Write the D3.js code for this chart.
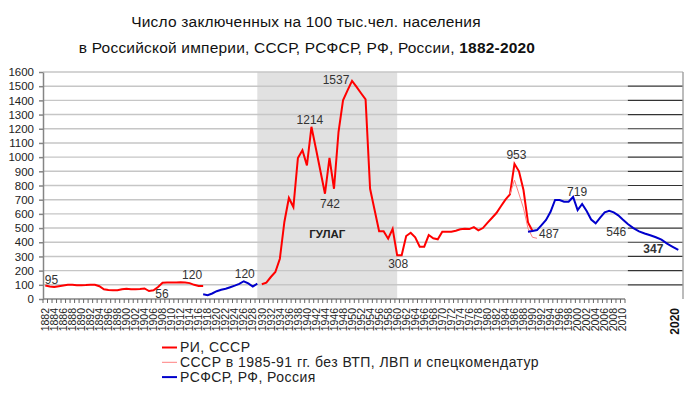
<!DOCTYPE html>
<html lang="ru">
<head>
<meta charset="UTF-8">
<title>Число заключенных на 100 тыс.чел. населения</title>
<style>
  body { margin: 0; background: #fff; }
  svg { display: block; font-family: "Liberation Sans", Arial, sans-serif; }
  .grid line { stroke: #c6c6c6; stroke-width: 1.4; }
  .ext line { stroke: #333; stroke-width: 1.2; }
  .yaxis path, .yaxis line { stroke: #858585; stroke-width: 1.5; }
  .yaxis text { font-size: 11.5px; fill: #222; }
  .xlab { font-size: 10.5px; fill: #222; }
  .note { font-size: 12px; fill: #333; }
</style>
</head>
<body>
<svg id="chart" width="688" height="396"></svg>
<script src="https://cdn.jsdelivr.net/npm/d3@7"></script>
<script>
// Российская империя, 1882-1917
const riYears = d3.range(1882, 1918);
const riValues = [95, 88, 85, 90, 95, 100, 100, 97, 97, 98,
  101, 100, 90, 68, 63, 61, 61, 68, 72, 68,
  68, 70, 74, 56, 62, 85, 115, 117, 117, 117,
  118, 116, 112, 100, 92, 92];

// РСФСР, 1917-1929
const rsfsrYears = d3.range(1917, 1930);
const rsfsrValues = [33, 27, 39, 55, 65, 72, 83, 94, 106, 125, 110, 87, 108];

// СССР, 1930-1990
const ussrYears = d3.range(1930, 1991);
const ussrValues = [104, 115, 155, 190, 284, 543, 712, 648, 994, 1048,
  942, 1214, 1059, 900, 742, 994, 777, 1177, 1400, 1470,
  1537, 1495, 1450, 1407, 777, 627, 477, 477, 425, 495,
  308, 308, 444, 467, 435, 369, 369, 451, 428, 421,
  474, 474, 474, 481, 491, 495, 493, 507, 484, 500,
  537, 571, 606, 654, 700, 738, 953, 900, 768, 540,
  479];

// СССР в 1985-91 гг. без ВТП, ЛВП и спецкомендатур
const noVtpYears = d3.range(1985, 1992);
const noVtpValues = [738, 838, 740, 640, 498, 435, 428];

// РФ, Россия, 1989-2020
const rfYears = d3.range(1989, 2021);
const rfValues = [474, 479, 486, 521, 557, 615, 698, 698, 686, 686,
  719, 627, 670, 620, 560, 533, 573, 611, 622, 611,
  590, 560, 528, 500, 477, 462, 449, 435, 418, 390,
  368, 347];

const gulagYears = [1929, 1960];
const labelYears = d3.range(1882, 2011, 2);

const legendItems = [
  { name: 'РИ, СССР', color: '#ff0000', width: 2 },
  { name: 'СССР в 1985-91 гг. без ВТП, ЛВП и спецкомендатур', color: '#ff8080', width: 1 },
  { name: 'РСФСР, РФ, Россия', color: '#0000cc', width: 2 }
];

const svg = d3.select('#chart');
const plotLeft = 43, plotRight = 683, plotTop = 72, plotBottom = 299;

// category axis up to 2010, then the appended part up to 2020
const x = d3.scaleLinear().domain([1881.5, 2010.5, 2020]).range([plotLeft, 625, 678.3]);
const y = d3.scaleLinear().domain([0, 1600]).range([plotBottom, plotTop]);

// title
const title = svg.append('text').attr('text-anchor', 'middle').attr('fill', '#111')
  .style('font-size', '15.5px').style('letter-spacing', '0.2px');
title.append('tspan').attr('x', 306).attr('y', 27).text('Число заключенных на 100 тыс.чел. населения');
const t2 = title.append('tspan').attr('x', 307).attr('y', 52.5);
t2.append('tspan').text('в Российской империи, СССР, РСФСР, РФ, России, ');
t2.append('tspan').attr('font-weight', 'bold').text('1882-2020');

// GULAG band
svg.append('rect')
  .attr('x', x(gulagYears[0]))
  .attr('y', plotTop)
  .attr('width', x(gulagYears[1]) - x(gulagYears[0]))
  .attr('height', plotBottom - plotTop)
  .attr('fill', '#e1e1e1');

// gridlines
const gridVals = y.ticks(16).filter(d => d > 0);
svg.append('g').attr('class', 'grid')
  .selectAll('line').data(gridVals).join('line')
  .attr('x1', plotLeft).attr('x2', d => d === 1600 ? plotRight : x(2011))
  .attr('y1', d => y(d)).attr('y2', d => y(d));

svg.append('g').attr('class', 'ext')
  .selectAll('line').data(gridVals.filter(d => d < 1600)).join('line')
  .attr('x1', x(2011)).attr('x2', plotRight)
  .attr('y1', d => y(d)).attr('y2', d => y(d));

svg.append('line')
  .attr('x1', plotRight).attr('x2', plotRight).attr('y1', plotTop).attr('y2', plotBottom)
  .attr('stroke', '#a0a0a0').attr('stroke-width', 1.4);

// y axis
svg.append('g').attr('class', 'yaxis')
  .attr('transform', `translate(${plotLeft},0)`)
  .call(d3.axisLeft(y).ticks(16).tickFormat(d3.format('d'))
    .tickSize(4).tickSizeOuter(0).tickPadding(5));

// x axis
svg.append('line')
  .attr('x1', plotLeft).attr('x2', x(2010.5)).attr('y1', plotBottom).attr('y2', plotBottom)
  .attr('stroke', '#858585').attr('stroke-width', 1.5);

svg.append('g')
  .selectAll('line').data(d3.range(1882, 2012)).join('line')
  .attr('x1', d => x(d - 0.5)).attr('x2', d => x(d - 0.5))
  .attr('y1', plotBottom).attr('y2', plotBottom + 4)
  .attr('stroke', '#666');

svg.append('g')
  .selectAll('text').data(labelYears).join('text')
  .attr('class', 'xlab')
  .attr('transform', d => `translate(${x(d)},${plotBottom + 9}) rotate(-90)`)
  .attr('text-anchor', 'end')
  .attr('dy', '0.35em')
  .text(d => d);

svg.append('text')
  .attr('transform', `translate(${x(2020) - 4},${plotBottom + 9}) rotate(-90)`)
  .attr('text-anchor', 'end')
  .attr('dy', '0.35em')
  .attr('font-weight', 'bold')
  .style('font-size', '12px')
  .attr('fill', '#111')
  .text('2020');

// lines
const line = d3.line().x(d => x(d[0])).y(d => y(d[1]));
const pairs = (ys, vs) => ys.map((yr, i) => [yr, vs[i]]);

svg.append('path').datum(pairs(riYears, riValues))
  .attr('d', line).attr('fill', 'none').attr('stroke', '#ff0000').attr('stroke-width', 2);
svg.append('path').datum(pairs(ussrYears, ussrValues))
  .attr('d', line).attr('fill', 'none').attr('stroke', '#ff0000').attr('stroke-width', 2);
svg.append('path').datum(pairs(noVtpYears, noVtpValues))
  .attr('d', line).attr('fill', 'none').attr('stroke', '#ff8080').attr('stroke-width', 1);
svg.append('path').datum(pairs(rsfsrYears, rsfsrValues))
  .attr('d', line).attr('fill', 'none').attr('stroke', '#0000cc').attr('stroke-width', 2);
svg.append('path').datum(pairs(rfYears, rfValues))
  .attr('d', line).attr('fill', 'none').attr('stroke', '#0000cc').attr('stroke-width', 2);

// value notes
function note(txt, year, value, dx, dy, anchor) {
  return svg.append('text').attr('class', 'note')
    .attr('x', x(year) + dx).attr('y', y(value) + dy)
    .attr('text-anchor', anchor || 'middle')
    .text(txt);
}
note('95', 1882, 95, -0.5, -2, 'start');
note('56', 1905, 56, 13, 7);
note('120', 1915, 120, -2, -3);
note('120', 1926, 125, 1, -3);
note('1214', 1941, 1214, -1.5, -3);
note('742', 1944, 742, 5, 14);
note('1537', 1950, 1537, -16, 3);
note('308', 1960, 308, 1, 13);
note('953', 1986, 953, 2, -4.5);
note('487', 1991, 486, 2, 8, 'start');
note('719', 1999, 719, 4, -1);
note('546', 2009, 590, -2, 21);
note('347', 2020, 347, -25, 3.5).attr('font-weight', 'bold').attr('fill', '#000');

svg.append('text')
  .attr('x', (x(gulagYears[0]) + x(gulagYears[1])) / 2)
  .attr('y', y(430))
  .attr('text-anchor', 'middle')
  .attr('font-weight', 'bold')
  .style('font-size', '11.5px')
  .attr('fill', '#222')
  .text('ГУЛАГ');

// legend
const legend = svg.append('g')
  .selectAll('g').data(legendItems).join('g')
  .attr('transform', (d, i) => `translate(162,${347.5 + i * 14.8})`);
legend.append('line')
  .attr('x1', 0).attr('x2', 15)
  .attr('stroke', d => d.color).attr('stroke-width', d => d.width);
legend.append('text')
  .attr('x', 18).attr('dy', '0.35em')
  .style('font-size', '14px').style('letter-spacing', '0.45px').attr('fill', '#222')
  .text(d => d.name);
</script>
</body>
</html>
